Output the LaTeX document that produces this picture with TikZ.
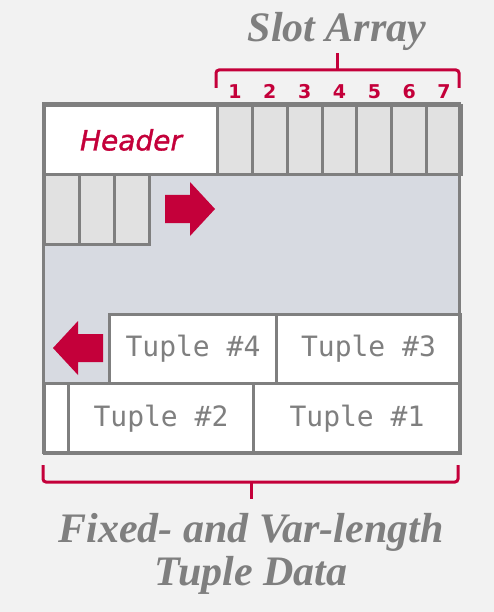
\documentclass[tikz,border=0pt]{standalone}
\usepackage{fontspec}
\usepackage{tikz}
\usetikzlibrary{positioning,calc}
\usepackage{xcolor}
\newfontfamily\capfont{Liberation Serif}
\newfontfamily\hdrfont[ItalicFeatures={FakeBold=1.2}]{DejaVu Sans}
\newfontfamily\tplfont{DejaVu Sans Mono}
\definecolor{bg}{HTML}{F2F2F2}
\definecolor{edge}{HTML}{7F7F7F}
\definecolor{crimson}{HTML}{C4003A}
\definecolor{slotgrey}{HTML}{E1E1E1}
\definecolor{freegrey}{HTML}{D7DAE1}

\begin{document}
\begin{tikzpicture}[x=1pt,y=-1pt,
  box/.style={draw=edge,line width=3pt,inner sep=0pt,anchor=north west},
  slotcell/.style={box,fill=slotgrey,minimum width=34.857pt,minimum height=69pt},
  tuplebox/.style={box,fill=white,minimum height=69pt,font=\tplfont\fontsize{28}{30}\selectfont,text=edge},
  brace/.style={draw=crimson,line width=3pt,rounded corners=3pt},
  bigtitle/.style={font=\capfont\bfseries\itshape\fontsize{42}{43}\selectfont,text=edge,align=center}]
  % page and background
  \fill[bg] (0,0) rectangle (494,612);
  \useasboundingbox (0,0) rectangle (494,612);
  \node[anchor=north west,fill=freegrey,inner sep=0pt,minimum width=416pt,minimum height=348pt] (page) at (43,104) {};
  % header and slot array
  \node[box,fill=white,minimum width=173pt,minimum height=69pt,text=crimson,font=\hdrfont\itshape\fontsize{28}{32}\selectfont] (header) at (43,104) {Header};
  \foreach \i in {1,...,7} {
    \node[slotcell] (s\i) at ({216+(\i-1)*34.857},104) {};
    \node[text=crimson,font=\hdrfont\bfseries\fontsize{19}{20}\selectfont,inner sep=0pt,anchor=base] (n\i) at ($(s\i.north)+(0,-5)$) {\i};
  }
  \foreach \i in {1,2,3} \node[slotcell,minimum width=35pt,minimum height=70pt] (c\i) at ({43+(\i-1)*35},173) {};
  % tuples
  \node[tuplebox,minimum width=167pt] (t4) at (108,313) {Tuple \#4};
  \node[tuplebox,minimum width=184pt] (t3) at (275,313) {Tuple \#3};
  \node[tuplebox,minimum width=24pt,minimum height=70pt] (t0) at (43,382) {};
  \node[tuplebox,minimum width=185pt,minimum height=70pt] (t2) at (67,382) {Tuple \#2};
  \node[tuplebox,minimum width=207pt,minimum height=70pt] (t1) at (252,382) {Tuple \#1};
  \draw[edge,line width=3pt] (page.north west) rectangle (page.south east);
  % growth arrows
  \fill[crimson] (165,195) -- (190,195) -- (190,182) -- (215,209) -- (190,236) -- (190,223) -- (165,223) -- cycle;
  \fill[crimson] (103,334) -- (78,334) -- (78,321) -- (53,348) -- (78,375) -- (78,362) -- (103,362) -- cycle;
  % braces and captions
  \draw[brace] (216,88) |- (459,70) -- (459,88);
  \draw[brace] (337,70) -- (337,53);
  \node[bigtitle] (slotlbl) at (337,31) {Slot Array};
  \draw[brace] (43,465) |- (458,482) -- (458,465);
  \draw[brace] (251,482) -- (251,499);
  \node[bigtitle] (datalbl) at (251,554) {Fixed- and Var-length\\Tuple Data};
\end{tikzpicture}
\end{document}
